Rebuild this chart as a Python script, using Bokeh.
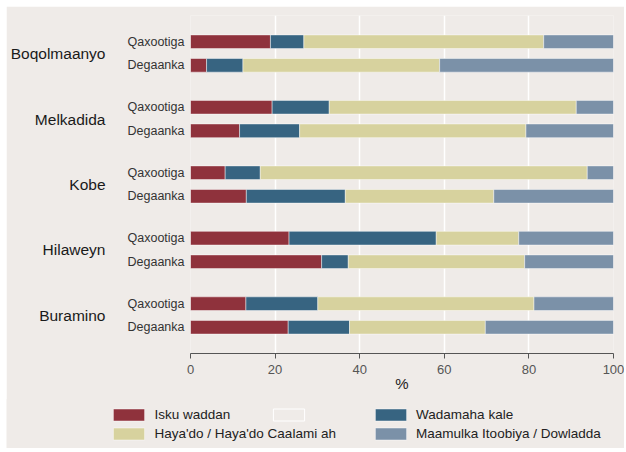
from bokeh.plotting import figure
from bokeh.models import (FactorRange, Range1d, Legend, LegendItem, FixedTicker,
                          ColumnDataSource, CategoricalAxis)
from bokeh.embed import file_html
from bokeh.resources import INLINE

# ---------------- data ----------------
groups = ["Boqolmaanyo", "Melkadida", "Kobe", "Hilaweyn", "Buramino"]
subgroups = ["Qaxootiga", "Degaanka"]

series_labels = ["Isku waddan", "Wadamaha kale",
                 "Haya'do / Haya'do Caalami ah", "Maamulka Itoobiya / Dowladda"]

# order of bars: Boq Q, Boq D, Mel Q, Mel D, Kobe Q, Kobe D, Hil Q, Hil D, Bur Q, Bur D
isku_waddan   = [18.9, 3.8, 19.3, 11.6, 8.2, 13.2, 23.3, 31.0, 13.1, 23.1]
wadamaha_kale = [7.9, 8.6, 13.5, 14.2, 8.3, 23.4, 34.8, 6.3, 17.0, 14.5]
hayado        = [56.7, 46.5, 58.4, 53.5, 77.3, 35.1, 19.5, 41.7, 51.1, 32.1]
maamulka      = [16.5, 41.1, 8.8, 20.7, 6.2, 28.3, 22.4, 21.0, 18.8, 30.3]

x_ticks = [0, 20, 40, 60, 80, 100]

# ---------------- styling ----------------
BG = "#efebe8"
FONT = "Liberation Sans"
colors = ["#8f323c", "#376481", "#d7d29e", "#7b91a8"]
stack_keys = ["isku", "wadamaha", "hayado", "maamulka"]

factors = [(g, s) for g in groups for s in subgroups]
source = ColumnDataSource(data=dict(
    y=factors, isku=isku_waddan, wadamaha=wadamaha_kale,
    hayado=hayado, maamulka=maamulka))

p = figure(width=618, height=394, output_backend="svg", toolbar_location=None,
           y_range=FactorRange(*list(reversed(factors)), group_padding=0.78,
                               range_padding=0.615, range_padding_units="absolute"),
           x_range=Range1d(0, 100),
           min_border_left=184, min_border_right=11, min_border_top=9,
           min_border_bottom=47)
p.extra_y_ranges = {"groups": FactorRange(*list(reversed(groups)),
                                          range_padding=0.084,
                                          range_padding_units="absolute")}
p.margin = (6, 0, 0, 6)

p.background_fill_color = BG
p.border_fill_color = BG
p.outline_line_color = None

rs = p.hbar_stack(stack_keys, y="y", height=0.58,
                  color=colors, line_color="white", line_alpha=0.45, line_width=1,
                  source=source)

# x axis
p.xaxis.ticker = FixedTicker(ticks=x_ticks)
p.xaxis.minor_tick_line_color = None
p.xaxis.major_tick_out = 5
p.xaxis.major_tick_in = 0
p.xaxis.axis_line_color = "#555555"
p.xaxis.major_tick_line_color = "#555555"
p.xaxis.major_label_text_font = FONT
p.xaxis.major_label_text_font_size = "13px"
p.xaxis.major_label_text_color = "#555555"
p.xaxis.major_label_standoff = 6
p.xaxis.axis_label = "%"
p.xaxis.axis_label_text_font = FONT
p.xaxis.axis_label_text_font_size = "15px"
p.xaxis.axis_label_text_font_style = "normal"
p.xaxis.axis_label_text_color = "#222222"
p.xaxis.axis_label_standoff = -2

p.xgrid.grid_line_color = "white"
p.xgrid.grid_line_width = 1.5
p.ygrid.grid_line_color = None

# y axis (sub labels)
p.yaxis.axis_line_color = None
p.yaxis.major_tick_line_color = None
p.yaxis.minor_tick_line_color = None
p.yaxis.major_tick_out = 0
p.yaxis.major_tick_in = 0
p.yaxis.major_label_standoff = 6
p.yaxis.major_label_text_font = FONT
p.yaxis.major_label_text_font_size = "12.5px"
p.yaxis.major_label_text_color = "#333333"
p.yaxis.group_text_font_size = "0px"
p.yaxis.group_text_color = None
p.yaxis.separator_line_color = None

# y axis (group labels)
gaxis = CategoricalAxis(y_range_name="groups")
gaxis.axis_line_color = None
gaxis.major_tick_line_color = None
gaxis.minor_tick_line_color = None
gaxis.major_tick_out = 0
gaxis.major_tick_in = 0
gaxis.major_label_standoff = 19
gaxis.major_label_text_font = FONT
gaxis.major_label_text_font_size = "15.5px"
gaxis.major_label_text_color = "#1a1a1a"
p.add_layout(gaxis, "left")

# ---------------- legend panel (separate root) ----------------
lg = figure(width=618, height=49, output_backend="svg", toolbar_location=None,
            x_range=Range1d(0, 1), y_range=Range1d(0, 1),
            x_axis_location=None, y_axis_location=None,
            min_border=0, min_border_left=0, min_border_right=0,
            min_border_top=0, min_border_bottom=0)
lg.margin = (-1, 0, 0, 6)
lg.background_fill_color = BG
lg.border_fill_color = BG
lg.outline_line_color = None
lg.xgrid.grid_line_color = None
lg.ygrid.grid_line_color = None

# key glyphs: one off-range bar each, so that the legend can draw its swatch
keys = []
for c in colors:
    keys.append(lg.hbar(y=[5], left=[5], right=[6], height=0.5, fill_color=c,
                        line_color="white", line_alpha=0.45, line_width=1))
empty = lg.hbar(y=[5], left=[5], right=[6], height=0.5, fill_color=BG,
                line_color="white", line_width=1)

def make_legend(items, loc):
    leg = Legend(items=items, location=loc, orientation="vertical",
                 padding=0, margin=0, spacing=4, border_line_color=None,
                 background_fill_alpha=0, glyph_width=39, glyph_height=15,
                 label_height=15, label_standoff=6, label_text_font=FONT,
                 label_text_font_size="13.5px", label_text_color="#222222")
    lg.add_layout(leg, "center")

make_legend([LegendItem(label=series_labels[0], renderers=[keys[0]]),
             LegendItem(label=series_labels[2], renderers=[keys[2]])], (103.4, 7))
make_legend([LegendItem(label=" ", renderers=[empty])], (263.4, 26))
make_legend([LegendItem(label=series_labels[1], renderers=[keys[1]]),
             LegendItem(label=series_labels[3], renderers=[keys[3]])], (365.1, 7))

open("out.html", "w").write(file_html([p, lg], INLINE))
